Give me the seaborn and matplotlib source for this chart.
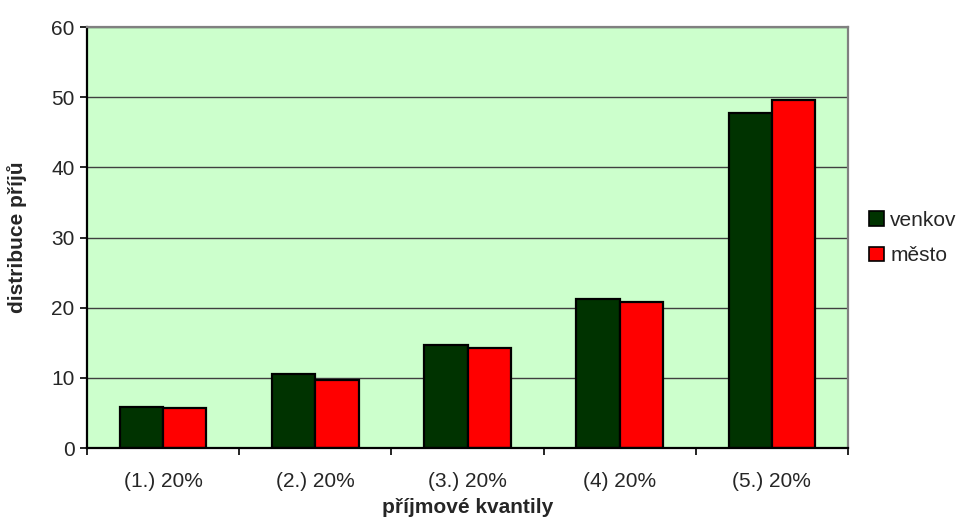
import matplotlib
matplotlib.use("Agg")
import matplotlib.pyplot as plt
import seaborn as sns
import pandas as pd
import numpy as np
from matplotlib.patches import Patch

categories = ["(1.) 20%", "(2.) 20%", "(3.) 20%", "(4) 20%", "(5.) 20%"]
venkov = [5.9, 10.5, 14.7, 21.2, 47.8]
mesto = [5.7, 9.7, 14.2, 20.8, 49.6]
series_names = ["venkov", "město"]
colors = ["#003300", "#FF0000"]

df = pd.DataFrame({
    "kvantil": categories * 2,
    "hodnota": venkov + mesto,
    "oblast": [series_names[0]] * len(categories) + [series_names[1]] * len(categories),
})

sns.set_style("white")
plt.rcParams["font.family"] = ["Liberation Sans", "DejaVu Sans"]
FS = 15

fig = plt.figure(figsize=(9.6, 5.31), dpi=100)
ax = fig.add_axes([87 / 960, 1 - 448 / 531, (848 - 87) / 960, (448 - 27) / 531])
ax.set_facecolor("#CCFFCC")

sns.barplot(data=df, x="kvantil", y="hodnota", hue="oblast", palette=colors,
            width=0.57, edgecolor="black", linewidth=1.6, ax=ax, legend=False,
            saturation=1)

ax.set_ylim(0, 60)
ax.set_xlim(-0.5, len(categories) - 0.5)
ax.set_yticks(np.arange(0, 61, 10))
ax.yaxis.grid(True, color="#404040", linewidth=1)
ax.set_axisbelow(True)

ax.tick_params(axis="y", direction="out", length=5, width=1.2, color="black",
               labelsize=FS, pad=4, left=True)
ax.tick_params(axis="x", which="major", length=0, labelsize=FS, pad=17)
ax.set_xticks(np.arange(-0.5, len(categories), 1.0), minor=True)
ax.tick_params(axis="x", which="minor", direction="out", length=5, width=1.2,
               color="black", bottom=True)

for side in ["left", "bottom"]:
    ax.spines[side].set_color("black")
    ax.spines[side].set_linewidth(1.6)
for side in ["top", "right"]:
    ax.spines[side].set_color("#808080")
    ax.spines[side].set_linewidth(1.6)

ax.set_xlabel("příjmové kvantily", fontsize=FS, fontweight="bold")
ax.set_ylabel("distribuce příjů", fontsize=FS, fontweight="bold")
ax.xaxis.set_label_coords(0.5, -0.118)
ax.yaxis.set_label_coords(-0.079, 0.5)

handles = [Patch(facecolor=c, edgecolor="black", linewidth=1.2, label=n)
           for c, n in zip(colors, series_names)]
fig.legend(handles=handles, loc="center left", bbox_to_anchor=(869 / 960, 1 - 238 / 531),
           frameon=False, fontsize=FS, handlelength=0.72, handleheight=0.72,
           handletextpad=0.3, labelspacing=0.8, borderaxespad=0, borderpad=0)

fig.savefig("out.png", dpi=100, facecolor="white")
